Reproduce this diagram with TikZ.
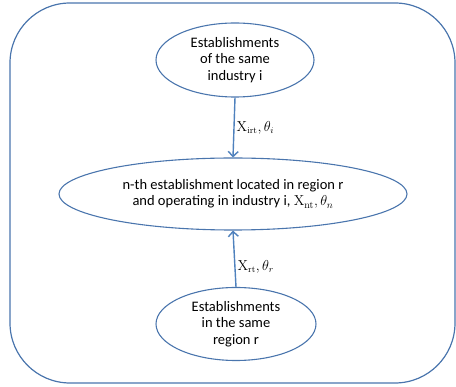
\documentclass[tikz,border=0pt]{standalone}
\usepackage[no-math]{fontspec}
\setmainfont{Carlito}
\usetikzlibrary{shapes.geometric,arrows.meta}
\definecolor{frameblue}{HTML}{4A75AD}
\definecolor{arrowblue}{HTML}{4F81BD}

\begin{document}
\begin{tikzpicture}[x=1pt,y=-1pt,
    oval/.style={ellipse, draw=frameblue, line width=1.1pt, inner sep=0pt, align=center,
                 font=\fontsize{14.5}{16.5}\selectfont},
    link/.style={draw=arrowblue, line width=1.4pt, -{Straight Barb[length=5pt,width=10pt]}},
    lbl/.style={right, inner sep=2pt, font=\fontsize{13.5}{15}\selectfont}]
    \useasboundingbox (0,0) rectangle (456,387);
    % outer frame
    \draw [frameblue, line width=1.2pt, rounded corners=60pt] (10,3) rectangle (455,383);
    % the three groups
    \node [oval, minimum width=158pt, minimum height=74pt] (ind) at (235,60)
        {Establishments\\of the same\\industry i};
    \node [oval, minimum width=348pt, minimum height=72pt] (est) at (233,194)
        {n-th establishment located in region r\\and operating in industry i, $\mathrm{X}_{\mathrm{nt}},\theta_n$};
    \node [oval, minimum width=160pt, minimum height=73pt] (reg) at (236,324)
        {Establishments\\in the same\\region r};
    % effects
    \draw [link] (ind.south) -- (est.north) node [lbl, pos=0.5] {$\mathrm{X}_{\mathrm{irt}},\theta_i$};
    \draw [link] (reg.north) -- (est.south) node [lbl, pos=0.36] {$\mathrm{X}_{\mathrm{rt}},\theta_r$};
\end{tikzpicture}
\end{document}
